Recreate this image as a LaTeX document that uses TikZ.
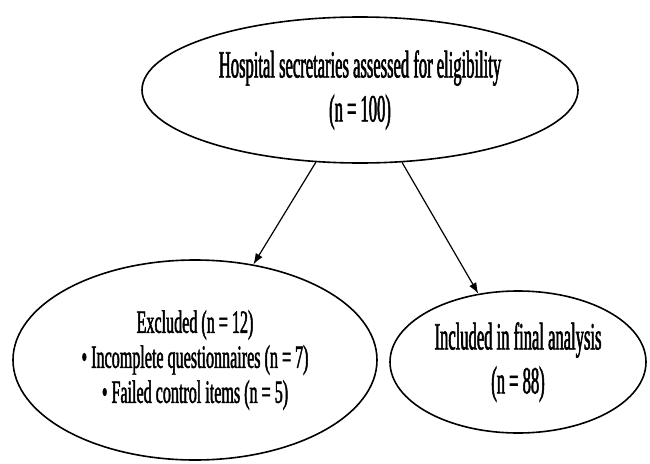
\documentclass[tikz,border=0pt]{standalone}
\usepackage{fontspec}
\setmainfont[FakeStretch=0.495, FakeBold=1.4]{Liberation Serif}
\newfontfamily\narrowfont[FakeStretch=0.43, FakeBold=1.4]{Liberation Serif}
\usetikzlibrary{shapes.geometric, arrows.meta}

\begin{document}
\begin{tikzpicture}[x=1pt, y=-1pt,
    stage/.style={ellipse, draw, line width=1.6pt, inner sep=0pt, align=center},
    big/.style={font=\narrowfont\fontsize{38.5}{44}\selectfont},
    small/.style={font=\fontsize{32.5}{35}\selectfont},
    flow/.style={-{Latex[length=11pt, width=8pt]}, line width=1.2pt}]
  \useasboundingbox (0,0) rectangle (650,463);
  \node (assessed) [stage, big, minimum width=436pt, minimum height=146pt] at (360,90)
    {Hospital secretaries assessed for eligibility\\(n = 100)};
  \node (excluded) [stage, small, minimum width=364pt, minimum height=200pt] at (195,360)
    {Excluded (n = 12)\\\textbullet{} Incomplete questionnaires (n = 7)\\\textbullet{} Failed control items (n = 5)};
  \node (included) [stage, big, minimum width=256pt, minimum height=142pt] at (518,362)
    {Included in final analysis\\(n = 88)};
  \draw [flow] (assessed) -- (excluded);
  \draw [flow] (assessed) -- (included);
\end{tikzpicture}
\end{document}
